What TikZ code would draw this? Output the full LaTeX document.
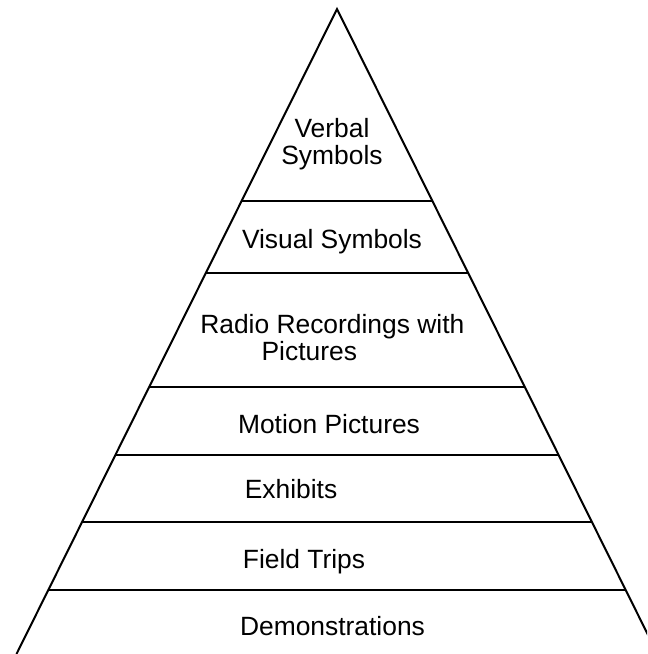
\documentclass[tikz,border=0pt]{standalone}
\usepackage{fontspec}
\setmainfont{Liberation Sans}
\usetikzlibrary{calc}

\begin{document}
\begin{tikzpicture}[x=0.75pt, y=-0.75pt]
    \tikzstyle{level} = [font=\fontsize{19.8}{20.3}\selectfont, inner sep=0pt]
    \tikzstyle{edge} = [line width=1.5pt, line join=miter]
    \clip (0,0) rectangle (647,654);

    % Pyramid outline
    \coordinate (apex) at (337,9);
    \coordinate (bl) at (16.5,654);
    \coordinate (br) at (657.5,654);
    \draw [edge] (bl) -- (apex) -- (br);

    % Level dividers
    \foreach \yy in {201,273,387,455,522,590}
        \draw [edge] ($(apex)!{(\yy-9)/645}!(bl)$) -- ($(apex)!{(\yy-9)/645}!(br)$);

    % Levels
    \node [level, align=center, anchor=north] (verbal) at (332,118) {Verbal\\Symbols};
    \node [level, anchor=base] (visual) at (332,248) {Visual Symbols};
    \node [level, align=left, anchor=north west] (radio) at (200,314) {Radio Recordings with\\\hspace*{46pt}Pictures};
    \node [level, anchor=base] (motion) at (329,433) {Motion Pictures};
    \node [level, anchor=base] (exhibits) at (291,498) {Exhibits};
    \node [level, anchor=base] (trips) at (304,568) {Field Trips};
    \node [level, anchor=base] (demo) at (332.5,635) {Demonstrations};
\end{tikzpicture}
\end{document}
